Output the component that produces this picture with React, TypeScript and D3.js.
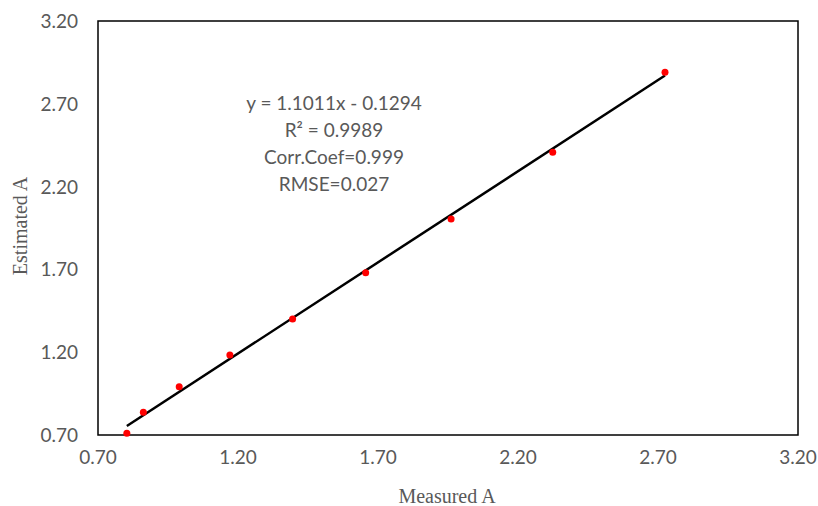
import React from "react";
import * as d3 from "d3";

const measured = [0.803, 0.862, 0.99, 1.171, 1.395, 1.656, 1.961, 2.324, 2.725];
const estimated = [0.71, 0.837, 0.992, 1.183, 1.4, 1.68, 2.004, 2.407, 2.89];
const ticks = [0.7, 1.2, 1.7, 2.2, 2.7, 3.2];
const slope = 1.1011;
const intercept = -0.1294;
const annotation = ["y = 1.1011x - 0.1294", "R² = 0.9989", "Corr.Coef=0.999", "RMSE=0.027"];

const W = 818;
const H = 506;
const left = 98, right = 798, top = 21, bottom = 435;

export default function App() {
  const x = d3.scaleLinear().domain([0.7, 3.2]).range([left, right]);
  const y = d3.scaleLinear().domain([0.7, 3.2]).range([bottom, top]);
  const x0 = d3.min(measured)!;
  const x1 = d3.max(measured)!;
  const line = d3.line<number>().x((d) => x(d)).y((d) => y(slope * d + intercept));
  const tickFont = "Lato, 'Open Sans', sans-serif";
  const titleFont = "'Liberation Serif', 'DejaVu Serif', serif";
  return (
    <svg width={W} height={H} style={{ position: "absolute", left: 0, top: 0 }}>
      <rect x={0} y={0} width={W} height={H} fill="#fff" />
      <rect x={left} y={top} width={right - left} height={bottom - top} fill="none" stroke="#000" strokeWidth={1.5} />
      {ticks.map((t) => (
        <text key={"x" + t} x={x(t)} y={464} textAnchor="middle" fontFamily={tickFont} fontSize={19} fill="#595959">
          {t.toFixed(2)}
        </text>
      ))}
      {ticks.map((t) => (
        <text key={"y" + t} x={78} y={y(t) + 7} textAnchor="end" fontFamily={tickFont} fontSize={19} fill="#595959">
          {t.toFixed(2)}
        </text>
      ))}
      <text x={447} y={503} textAnchor="middle" fontFamily={titleFont} fontSize={20} fill="#595959">
        Measured A
      </text>
      <text transform={`translate(27,226) rotate(-90)`} textAnchor="middle" fontFamily={titleFont} fontSize={20} fill="#595959">
        Estimated A
      </text>
      <path d={line([x0, x1]) || ""} stroke="#000" strokeWidth={2.5} fill="none" />
      {measured.map((m, i) => (
        <circle key={i} cx={x(m)} cy={y(estimated[i])} r={3.5} fill="#ff0000" />
      ))}
      {annotation.map((s, i) => (
        <text key={s} x={334} y={110 + i * 27} textAnchor="middle" fontFamily={tickFont} fontSize={19} fill="#595959">
          {s}
        </text>
      ))}
    </svg>
  );
}
